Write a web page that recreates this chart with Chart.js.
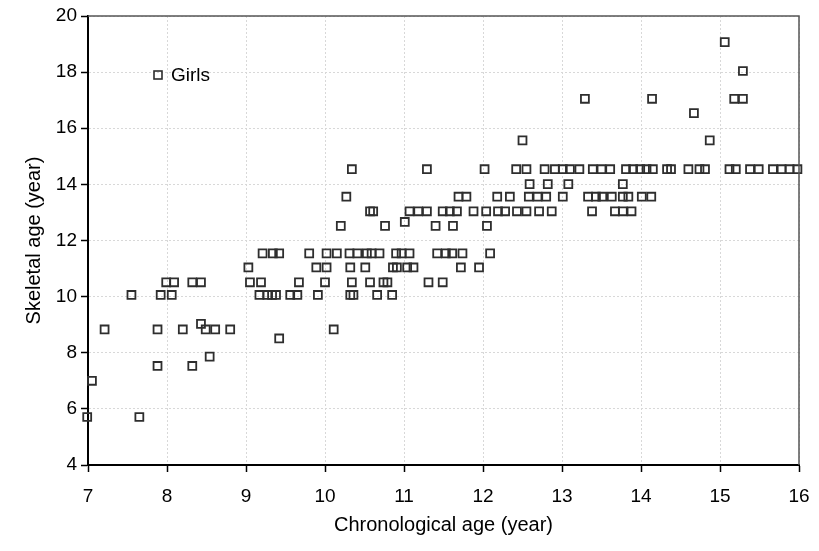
<!DOCTYPE html>
<html>
<head>
<meta charset="utf-8">
<script src="https://cdn.jsdelivr.net/npm/chart.js@4"></script>
<style>
  body { margin: 0; background: #fff; }
  #wrap { width: 819px; height: 551px; }
</style>
</head>
<body>
<div id="wrap"><canvas id="boneChart" width="819" height="551"></canvas></div>
<script>
// chronological age (x) and skeletal age (y), one point per girl
const chronoAge = [
  // skeletal ~14.5
  10.34, 11.29, 12.02, 12.42, 12.55, 12.78, 12.91, 13.01, 13.10, 13.22, 13.39, 13.50, 13.61, 13.81,
  13.90, 13.99, 14.07, 14.15, 14.33, 14.38, 14.60, 14.74, 14.81, 15.12, 15.20, 15.38, 15.49, 15.67,
  15.78, 15.88, 15.98,
  // ~14.0
  12.59, 12.82, 13.08, 13.77,
  // ~13.5
  10.27, 11.69, 11.79, 12.18, 12.34, 12.58, 12.69, 12.80, 13.01, 13.33, 13.43, 13.51, 13.63, 13.77,
  13.84, 14.01, 14.13,
  // ~13.0
  10.57, 10.61, 11.07, 11.18, 11.29, 11.49, 11.58, 11.67, 11.88, 12.04, 12.19, 12.28, 12.43, 12.55,
  12.71, 12.87, 13.38, 13.67, 13.77, 13.88,
  // ~12.6 / 12.5
  11.01,
  10.20, 10.76, 11.40, 11.62, 12.05,
  // ~11.5
  9.21, 9.34, 9.42, 9.80, 10.02, 10.15, 10.31, 10.41, 10.53, 10.59, 10.69, 10.90, 10.97, 11.07,
  11.42, 11.53, 11.61, 11.74, 12.09,
  // ~11.0
  9.03, 9.89, 10.02, 10.32, 10.51, 10.86, 10.91, 11.04, 11.12, 11.72, 11.95,
  // ~10.5
  7.99, 8.09, 8.32, 8.43, 9.05, 9.19, 9.67, 10.00, 10.34, 10.57, 10.74, 10.79, 11.31, 11.49,
  // ~10.0
  7.55, 7.92, 8.06, 9.17, 9.27, 9.33, 9.38, 9.56, 9.65, 9.91, 10.32, 10.36, 10.66, 10.85,
  // lower ones
  8.43,
  7.21, 7.88, 8.20, 8.49, 8.61, 8.80, 10.11,
  9.42,
  8.54,
  7.88, 8.32,
  7.05,
  6.99, 7.65,
  // upper ones
  12.50, 14.87,
  14.67,
  13.29, 14.14, 15.18, 15.29,
  15.29,
  15.06
];
const skeletalAge = [
  14.54, 14.54, 14.54, 14.54, 14.54, 14.54, 14.54, 14.54, 14.54, 14.54, 14.54, 14.54, 14.54, 14.54,
  14.54, 14.54, 14.54, 14.54, 14.54, 14.54, 14.54, 14.54, 14.54, 14.54, 14.54, 14.54, 14.54, 14.54,
  14.54, 14.54, 14.54,
  14.01, 14.01, 14.01, 14.01,
  13.56, 13.56, 13.56, 13.56, 13.56, 13.56, 13.56, 13.56, 13.56, 13.56, 13.56, 13.56, 13.56, 13.56,
  13.56, 13.56, 13.56,
  13.04, 13.04, 13.04, 13.04, 13.04, 13.04, 13.04, 13.04, 13.04, 13.04, 13.04, 13.04, 13.04, 13.04,
  13.04, 13.04, 13.04, 13.04, 13.04, 13.04,
  12.66,
  12.52, 12.52, 12.52, 12.52, 12.52,
  11.54, 11.54, 11.54, 11.54, 11.54, 11.54, 11.54, 11.54, 11.54, 11.54, 11.54, 11.54, 11.54, 11.54,
  11.54, 11.54, 11.54, 11.54, 11.54,
  11.04, 11.04, 11.04, 11.04, 11.04, 11.04, 11.04, 11.04, 11.04, 11.04, 11.04,
  10.51, 10.51, 10.51, 10.51, 10.51, 10.51, 10.51, 10.51, 10.51, 10.51, 10.51, 10.51, 10.51, 10.51,
  10.06, 10.06, 10.06, 10.06, 10.06, 10.06, 10.06, 10.06, 10.06, 10.06, 10.06, 10.06, 10.06, 10.06,
  9.03,
  8.83, 8.83, 8.83, 8.83, 8.83, 8.83, 8.83,
  8.51,
  7.86,
  7.53, 7.53,
  7.00,
  5.71, 5.71,
  15.57, 15.57,
  16.54,
  17.05, 17.05, 17.05, 17.05,
  18.04,
  19.07
];
const xTicks = [7, 8, 9, 10, 11, 12, 13, 14, 15, 16];
const yTicks = [4, 6, 8, 10, 12, 14, 16, 18, 20];
const seriesName = 'Girls';

const FONT = 'Liberation Sans, Arial, sans-serif';
const INK = '#2e2e2e';

const points = chronoAge.map((x, i) => ({ x: x, y: skeletalAge[i] }));

// frame on top/right + the little legend in the corner
const framePlugin = {
  id: 'frame',
  afterDraw(chart) {
    const { ctx, chartArea: a } = chart;
    ctx.save();
    ctx.strokeStyle = '#555';
    ctx.lineWidth = 1.5;
    ctx.beginPath();
    ctx.moveTo(a.left, a.top);
    ctx.lineTo(a.right, a.top);
    ctx.lineTo(a.right, a.bottom);
    ctx.stroke();

    // legend
    const lx = a.left + 70, ly = a.top + 59;
    ctx.strokeStyle = INK;
    ctx.lineWidth = 1.6;
    ctx.strokeRect(lx - 4, ly - 4, 8, 8);
    ctx.fillStyle = '#000';
    ctx.font = '19px ' + FONT;
    ctx.textBaseline = 'middle';
    ctx.fillText(seriesName, lx + 13, ly + 1);
    ctx.restore();
  }
};

new Chart(document.getElementById('boneChart'), {
  type: 'scatter',
  data: {
    datasets: [{
      label: seriesName,
      data: points,
      clip: false,
      pointStyle: 'rect',
      radius: 5.6,
      hoverRadius: 5.6,
      borderWidth: 1.8,
      borderColor: INK,
      backgroundColor: 'rgba(0,0,0,0)'
    }]
  },
  options: {
    responsive: false,
    devicePixelRatio: 1,
    animation: false,
    layout: { padding: { top: 16, right: 20, left: 0, bottom: 0 } },
    plugins: {
      legend: { display: false },
      tooltip: { enabled: false }
    },
    scales: {
      x: {
        type: 'linear',
        min: xTicks[0],
        max: xTicks[xTicks.length - 1],
        afterBuildTicks: s => { s.ticks = xTicks.map(v => ({ value: v })); },
        afterFit: s => { s.height = 86; s.paddingLeft = 0; s.paddingRight = 0; },
        ticks: { color: '#000', font: { family: FONT, size: 19 }, padding: 13, maxRotation: 0 },
        grid: { color: '#d8d8d8', lineWidth: 1, tickColor: '#000', tickLength: 7, tickWidth: 1.5 },
        border: { color: '#000', width: 2, dash: [2, 2] },
        title: { display: true, text: 'Chronological age (year)', color: '#000',
                 font: { family: FONT, size: 20 }, padding: { top: 0, bottom: 14 } }
      },
      y: {
        type: 'linear',
        min: yTicks[0],
        max: yTicks[yTicks.length - 1],
        afterBuildTicks: s => { s.ticks = yTicks.map(v => ({ value: v })); },
        afterFit: s => { s.width = 88; s.paddingTop = 0; s.paddingBottom = 0; },
        ticks: { color: '#000', font: { family: FONT, size: 19 }, padding: 4 },
        grid: { color: '#d8d8d8', lineWidth: 1, tickColor: '#000', tickLength: 7, tickWidth: 1.5 },
        border: { color: '#000', width: 2, dash: [2, 2] },
        title: { display: true, text: 'Skeletal age (year)', color: '#000',
                 font: { family: FONT, size: 20 }, padding: { top: 22, bottom: 0 } }
      }
    }
  },
  plugins: [framePlugin]
});
</script>
</body>
</html>
